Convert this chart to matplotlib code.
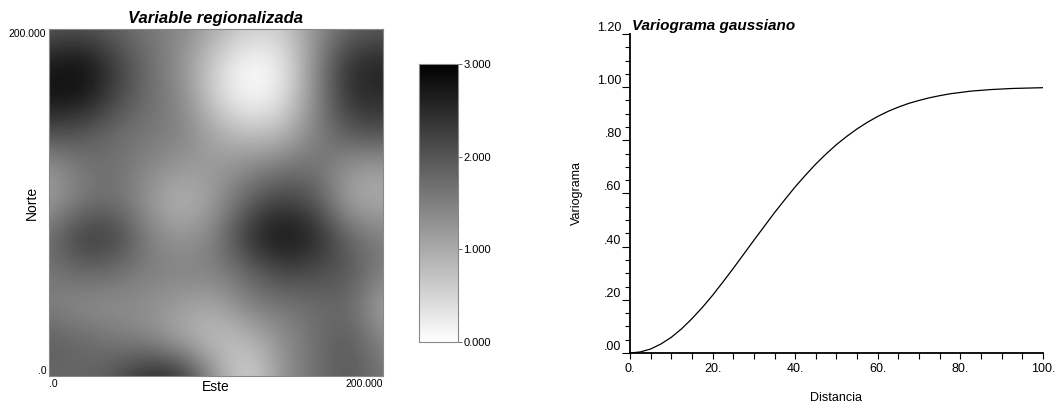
import numpy as np
import matplotlib
matplotlib.use("Agg")
import matplotlib.pyplot as plt
from matplotlib.ticker import MultipleLocator

plt.rcParams['font.family'] = ['Liberation Sans', 'DejaVu Sans']

# campo, filas de norte (arriba) a sur, columnas oeste -> este
campo = np.array([
    [1.9, 2.0, 1.8, 1.6, 1.4, 1.0, 0.6, 0.6, 1.3, 1.8, 1.9],
    [2.7, 2.9, 2.3, 1.7, 1.3, 0.5, 0.0, 0.2, 1.4, 2.5, 2.6],
    [2.8, 2.8, 2.2, 1.7, 1.4, 0.5, 0.0, 0.3, 1.4, 2.5, 2.5],
    [2.1, 2.0, 1.7, 1.6, 1.5, 1.0, 0.7, 0.8, 1.5, 2.0, 2.1],
    [1.2, 1.6, 1.7, 1.4, 1.2, 1.2, 1.4, 1.6, 1.7, 1.2, 1.1],
    [1.1, 1.6, 1.7, 1.2, 0.8, 1.2, 1.9, 2.3, 2.0, 1.0, 1.0],
    [1.7, 2.4, 2.3, 1.5, 1.2, 1.5, 2.5, 2.9, 2.6, 1.8, 1.5],
    [1.6, 1.8, 1.7, 1.5, 1.5, 1.5, 1.8, 2.2, 2.1, 2.0, 1.5],
    [1.5, 1.3, 1.3, 1.3, 1.1, 1.0, 1.5, 1.6, 1.7, 1.8, 1.0],
    [1.9, 1.8, 1.6, 1.4, 1.0, 0.7, 0.8, 1.3, 1.7, 2.0, 1.4],
    [1.8, 1.8, 2.0, 2.6, 2.5, 1.2, 0.4, 1.3, 1.7, 2.0, 1.6],
])
cbar_ticks = [0, 1, 2, 3]

# variograma gaussiano
distancia = [0, 2.5, 5, 7.5, 10, 12.5, 15, 17.5, 20, 22.5, 25, 27.5, 30,
             32.5, 35, 37.5, 40, 42.5, 45, 47.5, 50, 52.5, 55, 57.5, 60,
             62.5, 65, 67.5, 70, 72.5, 75, 77.5, 80, 82.5, 85, 87.5, 90,
             92.5, 95, 97.5, 100]
gamma = [0.000, 0.004, 0.015, 0.034, 0.059, 0.091, 0.129, 0.171, 0.217,
         0.267, 0.318, 0.371, 0.424, 0.476, 0.528, 0.577, 0.625, 0.669,
         0.711, 0.749, 0.784, 0.815, 0.843, 0.868, 0.890, 0.909, 0.925,
         0.939, 0.950, 0.960, 0.968, 0.975, 0.980, 0.985, 0.988, 0.991,
         0.993, 0.995, 0.996, 0.997, 0.998]
xt = [0, 20, 40, 60, 80, 100]
xt_lab = ['0.', '20.', '40.', '60.', '80.', '100.']
yt = [0, 0.2, 0.4, 0.6, 0.8, 1.0, 1.2]
yt_lab = ['.00', '.20', '.40', '.60', '.80', '1.00', '1.20']

fig = plt.figure(figsize=(10.62, 4.05), dpi=100)

# --- mapa ---
ax1 = fig.add_axes([0.0461, 0.0716, 0.3145, 0.8568])
# centros de celda en 0, 20, ..., 200
half = 200 / (campo.shape[1] - 1) / 2
im = ax1.imshow(campo, cmap='gray_r', vmin=0, vmax=3,
                extent=[-half, 200 + half, -half, 200 + half],
                interpolation='bicubic', aspect='auto')
ax1.set_xlim(0, 200)
ax1.set_ylim(0, 200)
for s in ax1.spines.values():
    s.set_color('#888888')
    s.set_linewidth(0.8)
ax1.set_xticks([0, 200])
ax1.set_xticklabels(['.0', '200.000'])
ax1.set_yticks([0, 200])
ax1.set_yticklabels(['.0', '200.000'])
ax1.tick_params(length=0, labelsize=7.5, pad=2)
xl = ax1.get_xticklabels()
xl[0].set_ha('left')
xl[1].set_ha('right')
yl = ax1.get_yticklabels()
yl[0].set_va('bottom')
yl[1].set_va('top')
ax1.set_xlabel('Este', fontsize=10, labelpad=-6)
ax1.set_ylabel('Norte', fontsize=10)
ax1.yaxis.set_label_coords(-0.03, 0.5)
ax1.set_title('Variable regionalizada', fontsize=12, fontweight='bold',
              fontstyle='italic', pad=4)

# --- barra de color ---
cax = fig.add_axes([0.3945, 0.1556, 0.0367, 0.6864])
cb = fig.colorbar(im, cax=cax, ticks=cbar_ticks)
cb.ax.set_yticklabels(['%.3f' % t for t in cbar_ticks])
cb.outline.set_edgecolor('#888888')
cb.outline.set_linewidth(0.8)
cb.ax.tick_params(length=3, width=0.6, labelsize=8, pad=1, color='#555555')

# --- variograma ---
ax2 = fig.add_axes([0.5932, 0.1284, 0.3889, 0.7877])
ax2.plot(distancia, gamma, color='black', lw=0.9)
ax2.set_xlim(0, 100)
ax2.set_ylim(0, 1.2)
ax2.spines['top'].set_visible(False)
ax2.spines['right'].set_visible(False)
ax2.spines['left'].set_linewidth(1.3)
ax2.spines['bottom'].set_linewidth(1.3)
ax2.set_xticks(xt)
ax2.set_xticklabels(xt_lab)
ax2.set_yticks(yt)
ax2.set_yticklabels(yt_lab)
ax2.xaxis.set_minor_locator(MultipleLocator(5))
ax2.yaxis.set_minor_locator(MultipleLocator(0.05))
ax2.tick_params(axis='x', which='major', length=4, width=0.8, labelsize=9)
ax2.tick_params(axis='x', which='minor', length=4, width=0.8)
ax2.tick_params(axis='y', which='major', length=6, width=0.8, labelsize=9, pad=0)
ax2.tick_params(axis='y', which='minor', length=3.5, width=0.8)
for lab in ax2.get_yticklabels():
    lab.set_va('bottom')
ax2.set_xlabel('Distancia', fontsize=9, labelpad=12)
ax2.set_ylabel('Variograma', fontsize=9, labelpad=10)
ax2.text(0.5, 1.205, 'Variograma gaussiano', fontsize=11, fontweight='bold',
         fontstyle='italic', ha='left', va='bottom')

fig.savefig('out.png', dpi=100)
